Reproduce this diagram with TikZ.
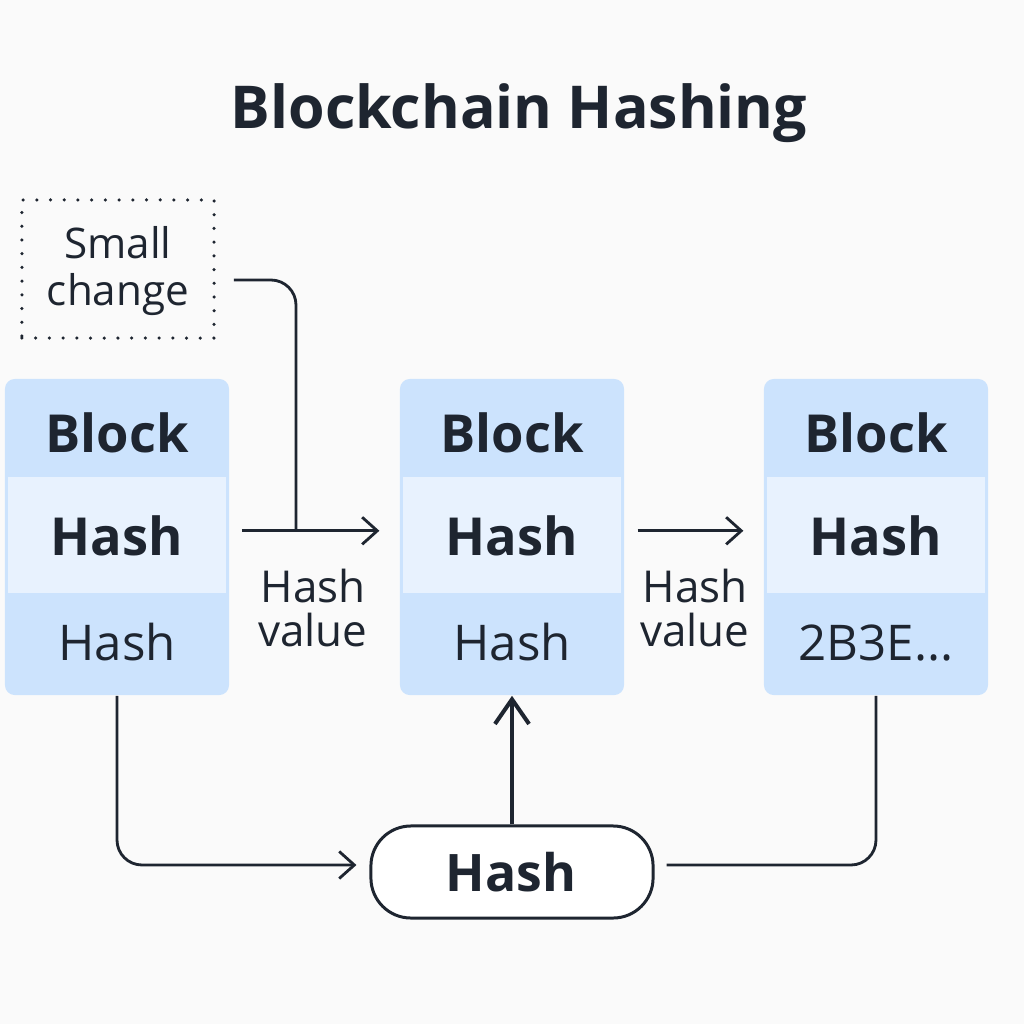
\documentclass[tikz,border=0pt]{standalone}
\usepackage{fontspec}
\setmainfont{Open Sans}
\usetikzlibrary{positioning,arrows.meta}
\definecolor{ink}{HTML}{1E2530}
\definecolor{blockblue}{HTML}{CCE3FD}
\definecolor{bandblue}{HTML}{E8F2FE}
\definecolor{paper}{HTML}{FAFAFA}
\newcommand{\headfont}{\bfseries\fontsize{14.9}{18}\selectfont}
\newcommand{\bodyfont}{\fontsize{14}{16}\selectfont}
\newcommand{\notefont}{\fontsize{12.5}{12.6}\selectfont}
\tikzstyle{block} = [fill=blockblue, rounded corners=0.1cm, minimum width=2.24cm, minimum height=3.16cm, inner sep=0pt]
\tikzstyle{band} = [fill=bandblue, minimum width=2.18cm, minimum height=1.15cm, inner sep=0pt]
\tikzstyle{head} = [anchor=base, text=ink, font=\headfont]
\tikzstyle{body} = [anchor=base, text=ink, font=\bodyfont]
\tikzstyle{note} = [text=ink, font=\notefont, align=center]
\tikzstyle{wire} = [draw=ink, line width=0.8pt, rounded corners=0.25cm]
\tikzstyle{flow} = [wire, -{Straight Barb[length=4.3pt,width=7.7pt]}]

\begin{document}
\begin{tikzpicture}[x=0.01cm, y=-0.01cm]
			\fill[paper] (0,0) rectangle (1024,1024);
			\node[anchor=base, text=ink, font=\bfseries\fontsize{16.8}{20}\selectfont] (title) at (519,128) {Blockchain Hashing};
			\node[draw=ink, line width=1pt, dash pattern=on 0pt off 3.9pt, line cap=round, minimum width=1.92cm, minimum height=1.38cm] (change) at (118,269) {};
			\node[note, font=\fontsize{12}{13.4}\selectfont] (changetext) at (118,271) {Small\\change};
			\node[block] (blockA) at (117,537) {};
			\node[band] (hashA) at (117,535) {};
			\node[head] (titleA) at (117,452) {Block};
			\node[head] (keyA) at (117,555) {Hash};
			\node[body] (prevA) at (117,660) {Hash};
			\node[block] (blockB) at (512,537) {};
			\node[band] (hashB) at (512,535) {};
			\node[head] (titleB) at (512,452) {Block};
			\node[head] (keyB) at (512,555) {Hash};
			\node[body] (prevB) at (512,660) {Hash};
			\node[block] (blockC) at (876,537) {};
			\node[band] (hashC) at (876,535) {};
			\node[head] (titleC) at (876,452) {Block};
			\node[head] (keyC) at (876,555) {Hash};
			\node[body] (prevC) at (876,660) {2B3E...};
			\node[note] (valueA) at (313,608) {Hash\\value};
			\node[note] (valueB) at (695,608) {Hash\\value};
			\node[draw=ink, fill=white, line width=0.85pt, rounded corners=0.4cm, minimum width=2.82cm, minimum height=0.92cm] (pill) at (512,872) {};
			\node[anchor=base, text=ink, font=\bfseries\fontsize{14.7}{17}\selectfont] (pilltext) at (511,891) {Hash};
			\coordinate (join) at (296,531);
			\draw[flow, shorten <=4.3pt, shorten >=6.5pt] ([yshift=1.2pt]hashA.east) -- ([yshift=1.2pt]hashB.west);
			\draw[wire] ([shift={(18,11)}]change.east) -| (join);
			\draw[flow, shorten <=4.5pt, shorten >=6.5pt] ([yshift=1.2pt]hashB.east) -- ([yshift=1.2pt]hashC.west);
			\draw[flow] (blockA.south) |- ([shift={(-13,-7)}]pill.west);
			\draw[draw=ink, line width=1.15pt, -{Straight Barb[length=7pt,width=9.7pt]}] (pill.north) -- (blockB.south);
			\draw[wire] ([shift={(12,-7)}]pill.east) -| (blockC.south);
		\end{tikzpicture}
\end{document}
